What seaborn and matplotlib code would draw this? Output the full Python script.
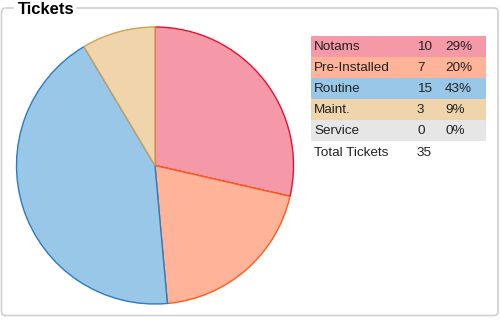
import matplotlib
matplotlib.use("Agg")
import matplotlib.pyplot as plt
from matplotlib.patches import FancyBboxPatch, Rectangle
import seaborn as sns

categories = ["Notams", "Pre-Installed", "Routine", "Maint.", "Service"]
counts = [10, 7, 15, 3, 0]
percents = ["29%", "20%", "43%", "9%", "0%"]
total_label = "Total Tickets"
total_value = 35
title = "Tickets"

fill_colors = ["#f599a8", "#ffb399", "#99c7e8", "#f0d4ab", "#e6e6e6"]
edge_colors = ["#e8102c", "#ff5a1a", "#2a7bc4", "#d4a052", "#bbbbbb"]

sns.set_style("white")
plt.rcParams["font.family"] = ["Liberation Sans", "DejaVu Sans"]

W, H = 500, 320
fig = plt.figure(figsize=(W / 100, H / 100), dpi=100)
ax = fig.add_axes([0, 0, 1, 1])
ax.set_xlim(0, W)
ax.set_ylim(0, H)
ax.set_aspect("equal")
ax.axis("off")

def Y(y):
    return H - y

# frame
frame = FancyBboxPatch((1.5, Y(315.5)), 496.5, 307.5,
                       boxstyle="round,pad=0,rounding_size=4",
                       fc="none", ec="#d0d0d0", lw=1.2)
ax.add_patch(frame)
ax.add_patch(Rectangle((14, Y(12)), 62, 8, fc="white", ec="none", zorder=2))
ax.text(18, Y(9), title, fontsize=12, fontweight="bold", va="center",
        ha="left", color="black", zorder=3)

# pie
nonzero = [(c, f, e) for c, f, e in zip(counts, fill_colors, edge_colors) if c > 0]
wedges, _ = ax.pie([n[0] for n in nonzero], colors=[n[1] for n in nonzero],
                   center=(155, Y(165.5)), radius=138.5, startangle=90,
                   counterclock=False, frame=True)
for w, n in zip(wedges, nonzero):
    w.set_edgecolor(n[2])
    w.set_linewidth(1)
ax.set_xlim(0, W)
ax.set_ylim(0, H)
ax.axis("off")

# table
x0, x1 = 311, 486
row_h = 21
top = 36
fs = 9.7
for i, (cat, cnt, pct) in enumerate(zip(categories, counts, percents)):
    yt = top + i * row_h
    ax.add_patch(Rectangle((x0, Y(yt + row_h)), x1 - x0, row_h,
                           fc=fill_colors[i], ec="none"))
    yc = Y(yt + row_h / 2 + 0.5)
    ax.text(314, yc, cat, fontsize=fs, va="center", ha="left", color="#222222")
    ax.text(417, yc, str(cnt), fontsize=fs, va="center", ha="left", color="#222222")
    ax.text(445, yc, pct, fontsize=fs, va="center", ha="left", color="#222222")
yt = top + 5 * row_h
yc = Y(yt + row_h / 2 + 2)
ax.text(314, yc, total_label, fontsize=fs, va="center", ha="left", color="#222222")
ax.text(417, yc, str(total_value), fontsize=fs, va="center", ha="left", color="#222222")

fig.savefig("out.png", dpi=100)
